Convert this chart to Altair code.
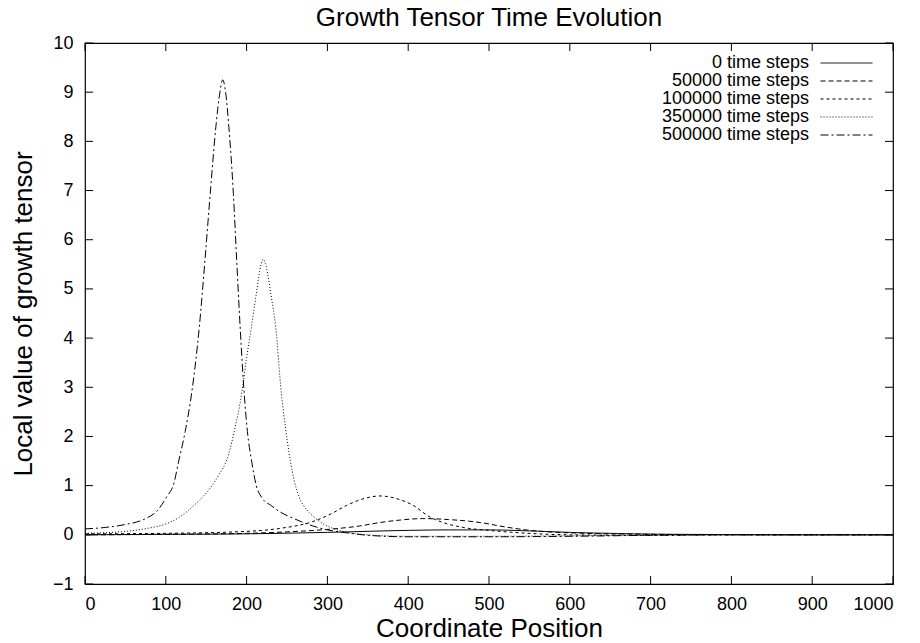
import altair as alt
import pandas as pd

series_names = ["0 time steps", "50000 time steps", "100000 time steps",
                "350000 time steps", "500000 time steps"]

x0 = [0, 100, 200, 300, 400, 450, 500, 550, 600, 650, 700, 800, 900, 1000]
y0 = [0.0, 0.01, 0.02, 0.05, 0.09, 0.10, 0.10, 0.08, 0.05, 0.03, 0.015, 0.005, 0.0, 0.0]

x1 = [0, 100, 200, 250, 300, 340, 365, 390, 418, 450, 489, 520, 551, 600, 700, 800, 1000]
y1 = [0.0, 0.01, 0.03, 0.06, 0.11, 0.18, 0.25, 0.30, 0.33, 0.31, 0.25, 0.16, 0.09, 0.04, 0.01, 0.0, 0.0]

x2 = [0, 100, 200, 241, 282, 305, 324, 344, 365, 385, 406, 427, 445, 468, 500, 530, 600, 700, 800, 1000]
y2 = [0.02, 0.03, 0.07, 0.13, 0.27, 0.43, 0.60, 0.73, 0.79, 0.74, 0.60, 0.36, 0.24, 0.15, 0.09, 0.05, 0.0, -0.01, 0.0, 0.0]

x3 = [0, 50, 80, 100, 118, 135, 150, 165, 177, 186, 194, 200, 206, 212, 216, 220.7, 225, 230,
      236, 243, 248, 254, 259, 265, 275, 283, 295, 307, 325, 350, 400, 500, 600, 700, 800, 1000]
y3 = [0.03, 0.07, 0.14, 0.22, 0.37, 0.6, 0.85, 1.2, 1.6, 2.2, 2.88, 3.6, 4.23, 4.9, 5.35, 5.6, 5.4, 4.9,
      4.23, 2.88, 2.2, 1.52, 1.1, 0.77, 0.5, 0.37, 0.22, 0.13, 0.05, 0.0, -0.03, -0.03, -0.02, -0.01, 0.0, 0.0]

x4 = [0, 25, 50, 75, 90, 101, 110, 116, 124, 132, 141.5, 148.5, 155, 162, 167, 170.4, 174, 178,
      183.6, 187.7, 192, 197, 201, 206, 212, 219, 230, 241, 260, 282, 300, 324, 350, 400, 500,
      600, 700, 800, 1000]
y4 = [0.12, 0.15, 0.21, 0.33, 0.5, 0.77, 1.05, 1.5, 2.1, 2.88, 4.23, 5.59, 6.94, 8.3, 9.0, 9.25, 9.0, 8.3,
      6.94, 5.59, 4.23, 2.88, 2.1, 1.52, 1.0, 0.75, 0.6, 0.47, 0.32, 0.18, 0.1, 0.04, -0.01, -0.04, -0.04,
      -0.03, -0.01, 0.0, 0.0]

x_ticks = [0, 100, 200, 300, 400, 500, 600, 700, 800, 900, 1000]
y_ticks = [-1, 0, 1, 2, 3, 4, 5, 6, 7, 8, 9, 10]

dash_patterns = [[1, 0], [5, 3], [3, 3], [1, 2], [8, 3, 2, 3]]

rows = []
for i, (name, xs_, ys_) in enumerate(zip(series_names, [x0, x1, x2, x3, x4], [y0, y1, y2, y3, y4])):
    for j, (xv, yv) in enumerate(zip(xs_, ys_)):
        rows.append({"series": name, "x": xv, "y": yv, "idx": j})
df = pd.DataFrame(rows)

W, H = 808, 541
FONT = "Liberation Sans"
xscale = alt.Scale(domain=[0, 1000], nice=False, zero=False)
yscale = alt.Scale(domain=[-1, 10], nice=False, zero=False)

x_axis = alt.Axis(values=x_ticks, title="Coordinate Position", ticks=False, domain=False,
                  grid=False, labelPadding=11, titlePadding=2, format="d",
                  labelFont=FONT, labelFontSize=18, labelColor="black",
                  titleFont=FONT, titleFontSize=26, titleFontWeight="normal", titleColor="black")
y_axis = alt.Axis(values=y_ticks, title="Local value of growth tensor", ticks=False, domain=False,
                  grid=False, labelPadding=12, titlePadding=16, format="d",
                  labelFont=FONT, labelFontSize=18, labelColor="black",
                  titleFont=FONT, titleFontSize=26, titleFontWeight="normal", titleColor="black")

lines = alt.Chart(df).mark_line(color="black", strokeWidth=1, interpolate="monotone").encode(
    x=alt.X("x:Q", scale=xscale, axis=x_axis, title="Coordinate Position"),
    y=alt.Y("y:Q", scale=yscale, axis=y_axis, title="Local value of growth tensor"),
    strokeDash=alt.StrokeDash("series:N", sort=series_names,
                              scale=alt.Scale(domain=series_names, range=dash_patterns),
                              legend=alt.Legend(orient="none", legendX=752.5, legendY=11, title=None,
                                                symbolType="M-3.25,0H3.25", symbolSize=256,
                                                symbolStrokeWidth=1, symbolStrokeColor="black",
                                                symbolFillColor="transparent",
                                                labelAlign="right", labelOffset={"expr": "-46.5"},
                                                labelFont=FONT, labelFontSize=18, labelColor="black",
                                                labelLimit=0, rowPadding=0, padding=0)),
    order="idx:Q",
)

tx = pd.DataFrame({"x": x_ticks})
ty = pd.DataFrame({"y": y_ticks})
tick_bottom = alt.Chart(tx).mark_rule(color="black", strokeWidth=1).encode(
    x=alt.X("x:Q", scale=xscale, axis=x_axis, title="Coordinate Position"),
    y=alt.value(H), y2=alt.value(H - 8))
tick_top = alt.Chart(tx).mark_rule(color="black", strokeWidth=1).encode(
    x=alt.X("x:Q", scale=xscale, axis=x_axis, title="Coordinate Position"),
    y=alt.value(0), y2=alt.value(8))
tick_left = alt.Chart(ty).mark_rule(color="black", strokeWidth=1).encode(
    y=alt.Y("y:Q", scale=yscale, axis=y_axis, title="Local value of growth tensor"),
    x=alt.value(0), x2=alt.value(8))
tick_right = alt.Chart(ty).mark_rule(color="black", strokeWidth=1).encode(
    y=alt.Y("y:Q", scale=yscale, axis=y_axis, title="Local value of growth tensor"),
    x=alt.value(W), x2=alt.value(W - 8))

chart = alt.layer(lines, tick_bottom, tick_top, tick_left, tick_right).properties(
    width=W, height=H,
    title=alt.TitleParams("Growth Tensor Time Evolution", font=FONT, fontSize=26, fontWeight="normal",
                          color="black", offset=3, anchor="middle"),
    autosize=alt.AutoSizeParams(type="none"),
    padding={"left": 77, "top": 35, "right": 12, "bottom": 55},
    background="white",
).configure_view(stroke="black", strokeWidth=1.2)

chart.save("out.html", embed_options={"renderer": "svg", "actions": False})
